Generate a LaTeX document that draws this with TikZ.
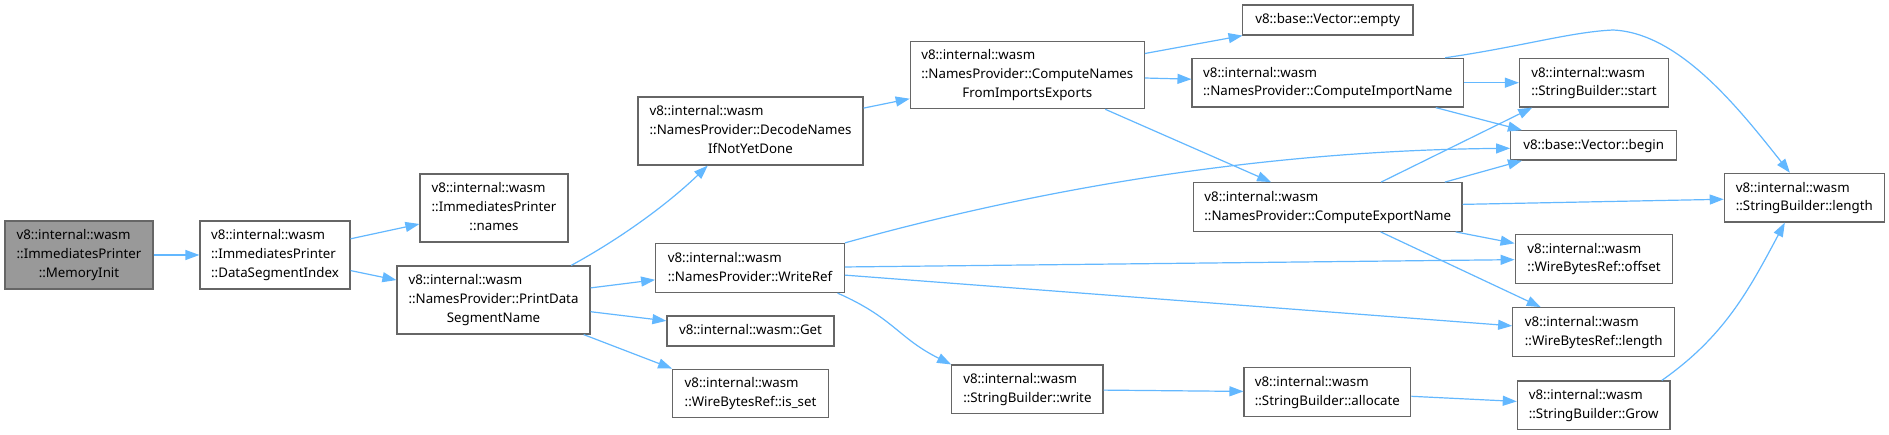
\documentclass[tikz,border=0pt]{standalone}
\usepackage{fontspec}
\setmainfont{Noto Sans}
\usetikzlibrary{arrows.meta}
\definecolor{edgeblue}{HTML}{63B8FF}
\definecolor{nodeborder}{HTML}{666666}
\definecolor{nodegray}{HTML}{999999}
\newcommand\lone[1]{\begin{tabular}{@{}l@{}}#1\end{tabular}}
\newcommand\ltwo[2]{\begin{tabular}{@{}l@{}}#1\\#2\end{tabular}}
\newcommand\lthree[3]{\begin{tabular}{@{}l@{}}#1\\#2\\\multicolumn{1}{@{}c@{}}{#3}\end{tabular}}
\tikzset{
  box/.style={draw=nodeborder, line width=1.2pt, fill=white, inner sep=0pt,
    font=\fontsize{13.3pt}{18.8pt}\selectfont, text=black},
  dim/.style 2 args={minimum width=#1pt, minimum height=#2pt},
  edge/.style={draw=edgeblue, line width=1.2pt, -{Triangle[length=14pt,width=10pt]}},
}
\begin{document}
\begin{tikzpicture}[x=1pt,y=-1pt]
\fill[white] (0,0) rectangle (1889,435);
\useasboundingbox (0,0) rectangle (1889,435);

\node[box, fill=nodegray, dim={148}{68}] (A) at (79,255) {\lthree{v8::internal::wasm}{::ImmediatesPrinter}{::MemoryInit}};
\node[box, dim={150}{68}] (B) at (275,255) {\lthree{v8::internal::wasm}{::ImmediatesPrinter}{::DataSegmentIndex}};
\node[box, dim={148}{68}] (C) at (494,208) {\lthree{v8::internal::wasm}{::ImmediatesPrinter}{::names}};
\node[box, dim={193}{68}] (D) at (493.5,300) {\lthree{v8::internal::wasm}{::NamesProvider::PrintData}{SegmentName}};
\node[box, dim={225}{68}] (E) at (750.5,131) {\lthree{v8::internal::wasm}{::NamesProvider::DecodeNames}{IfNotYetDone}};
\node[box, dim={188.6}{49}] (F) at (750,268) {\ltwo{v8::internal::wasm}{::NamesProvider::WriteRef}};
\node[box, dim={167}{30}] (G) at (750.5,331) {\lone{v8::internal::wasm::Get}};
\node[box, dim={155.6}{48.7}] (H) at (750.5,393.5) {\ltwo{v8::internal::wasm}{::WireBytesRef::is\_set}};
\node[box, dim={234}{67.4}] (I) at (1027.3,75) {\lthree{v8::internal::wasm}{::NamesProvider::ComputeNames}{FromImportsExports}};
\node[box, dim={170.4}{30}] (J) at (1327.7,20) {\lone{v8::base::Vector::empty}};
\node[box, dim={271.3}{48.7}] (K) at (1327.7,82.7) {\ltwo{v8::internal::wasm}{::NamesProvider::ComputeImportName}};
\node[box, dim={149}{48.7}] (L) at (1594,82.7) {\ltwo{v8::internal::wasm}{::StringBuilder::start}};
\node[box, dim={166}{29.3}] (M) at (1593.7,145.4) {\lone{v8::base::Vector::begin}};
\node[box, dim={268.7}{48.6}] (N) at (1327.7,207) {\ltwo{v8::internal::wasm}{::NamesProvider::ComputeExportName}};
\node[box, dim={160}{48.7}] (O) at (1804.3,197.7) {\ltwo{v8::internal::wasm}{::StringBuilder::length}};
\node[box, dim={157.7}{49}] (P) at (1594,258.8) {\ltwo{v8::internal::wasm}{::WireBytesRef::offset}};
\node[box, dim={162}{48.6}] (Q) at (1593.7,332) {\ltwo{v8::internal::wasm}{::WireBytesRef::length}};
\node[box, dim={151.3}{48.7}] (R) at (1027.4,389.4) {\ltwo{v8::internal::wasm}{::StringBuilder::write}};
\node[box, dim={166.7}{49}] (S) at (1327.4,392.2) {\ltwo{v8::internal::wasm}{::StringBuilder::allocate}};
\node[box, dim={152.7}{48.3}] (T) at (1593.7,405.2) {\ltwo{v8::internal::wasm}{::StringBuilder::Grow}};

\coordinate (kopeak) at (1613,30);

\draw[edge] (A) -- (B);
\draw[edge] (B) -- (C);
\draw[edge] (B) -- (D);
\draw[edge] (D.24) .. controls (620,238.8) and (666.4,205.2) .. (E.-141);
\draw[edge] (D) -- (F);
\draw[edge] (D) -- (G);
\draw[edge] (D.-21.7) -- (H.north west);
\draw[edge] (E) -- (I);
\draw[edge] (I) -- (J);
\draw[edge] (I) -- (K);
\draw[edge] (I) -- (N);
\draw[edge] (K) -- (L);
\draw[edge] (K.-13) -- (M.168);
\draw[edge] (K.12.6) .. controls (1520,47) and (1570,32) .. (kopeak) .. controls (1680,33) and (1740,110) .. (O.120);
\draw[edge] (F.north east) .. controls (1062.2,182.3) and (1284.4,150.3) .. (M.182);
\draw[edge] (F) -- (P);
\draw[edge] (F) -- (Q);
\draw[edge] (F.-16) .. controls (894,318) and (898,338) .. (R.north west);
\draw[edge] (N.25) -- (L.-158);
\draw[edge] (N.12.6) -- (M.-168.5);
\draw[edge] (N) -- (O);
\draw[edge] (N) -- (P);
\draw[edge] (N) -- (Q);
\draw[edge] (R) -- (S);
\draw[edge] (S) -- (T);
\draw[edge] (T.20) .. controls (1723.8,336.8) and (1748,291.8) .. (O.-128);
\end{tikzpicture}
\end{document}
